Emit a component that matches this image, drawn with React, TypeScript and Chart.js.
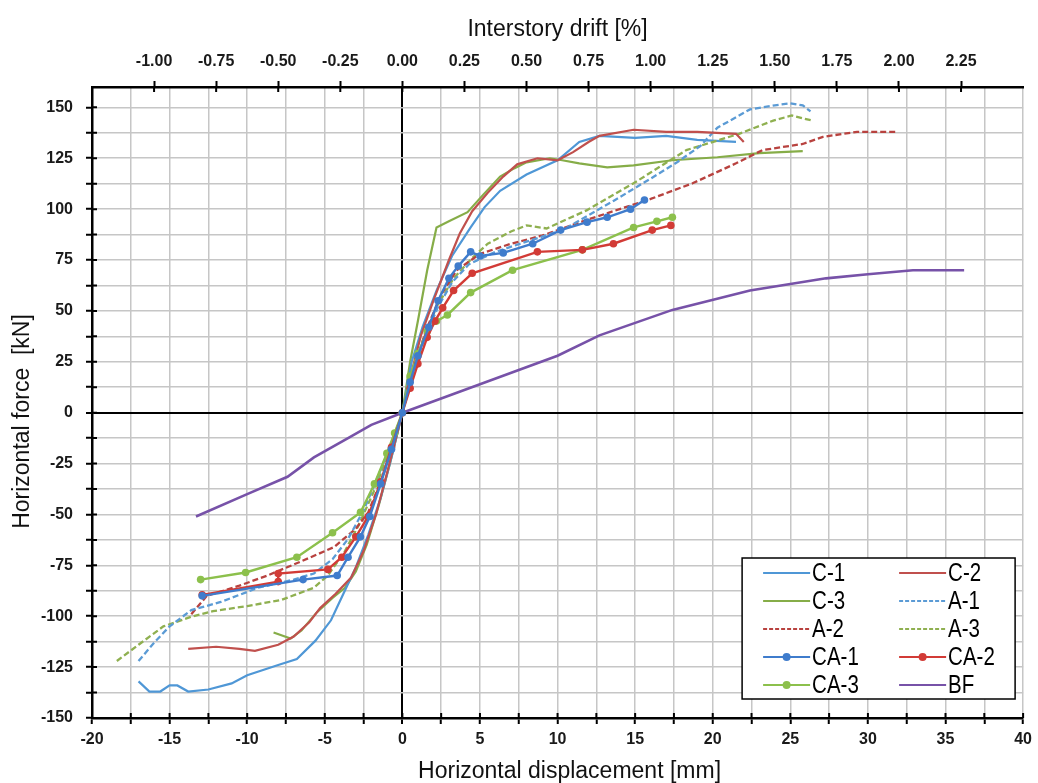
import React, { useEffect, useRef } from 'react';
import { Chart, registerables } from 'chart.js';

Chart.register(...registerables);

// ---- Data: [horizontal displacement (mm), horizontal force (kN)] ----
const C1: number[][] = [[-17,-132],[-16.3,-137],[-15.6,-137],[-15,-134],[-14.5,-134],[-13.8,-137],[-12.5,-136],[-11,-133],[-10,-129],[-8,-124],[-6.8,-121],[-5.6,-112],[-4.6,-102],[-3.8,-89],[-3,-76],[-2.2,-60],[-1.4,-42],[-0.7,-22],[0,0],[0.6,25],[1.3,42],[2.2,60],[3.2,77],[4.4,91],[5.3,101],[6.3,109],[8,117],[10,124],[11.4,133],[12.7,136],[15,135],[17,136],[19,134],[21.5,133]];
const C2: number[][] = [[-13.8,-116],[-12,-115],[-10.5,-116],[-9.5,-117],[-8,-114],[-7,-110],[-6,-103],[-5.3,-96],[-4.3,-89],[-3.3,-81],[-2.5,-68],[-1.7,-50],[-1,-30],[0,0],[0.6,20],[1.2,38],[2,55],[3,75],[3.7,88],[4.5,99],[5.5,108],[6.5,116],[7.4,122],[8.7,125],[10,124],[11,128],[12,133],[12.7,136],[14.9,139],[17,138],[19,138],[21.5,137],[22,133]];
const C3: number[][] = [[-8.3,-108],[-7.2,-111],[-6.5,-107],[-5.5,-98],[-4.5,-91],[-3.7,-86],[-3,-78],[-2.3,-65],[-1.5,-45],[-0.8,-25],[0,0],[0.5,25],[1,45],[1.6,70],[2.2,91],[3,94],[4.2,98.5],[5.2,107],[6.3,116],[7.2,120],[8,123],[9.5,125],[10.3,124],[11.4,122.5],[13.2,120.5],[14.9,121.5],[17.4,124],[20.3,125.5],[23,127.5],[25.8,128.5]];
const A1: number[][] = [[-17,-122],[-16,-113],[-15,-105],[-13.6,-97],[-11.7,-93],[-9.3,-86],[-7,-82],[-5.7,-79],[-4.5,-72],[-3.5,-62],[-2.5,-48],[-1.5,-30],[-0.7,-15],[0,0],[0.7,20],[1.5,38],[2.3,52],[3.2,64],[4.3,73],[6,79],[8,84],[10.4,90],[13.6,104],[16,115],[17.7,123],[19.2,131],[20.3,140],[22.4,149],[24,151],[25,152],[25.8,151],[26.3,148]];
const A2: number[][] = [[-13.6,-99],[-12.6,-90],[-10.5,-85],[-8.7,-80],[-6.5,-73],[-4.4,-66],[-3,-57],[-2.2,-49],[-1.2,-30],[-0.5,-13],[0,0],[0.7,20],[1.5,40],[2.5,58],[3.5,70],[5,78],[7,83],[9,87],[12,95],[14,100],[16,105],[18.7,112.7],[21.5,122.5],[23.2,129],[25.8,132],[27.1,135.5],[29.3,138],[31.8,138]];
const A3: number[][] = [[-18.4,-122],[-17,-114],[-15.4,-105],[-13.5,-100],[-12.2,-97.5],[-10,-95],[-7.8,-92],[-5.7,-86],[-4.8,-80],[-3.7,-68],[-2.8,-55],[-1.8,-38],[-1,-22],[0,0],[0.6,18],[1.3,35],[2.2,52],[3.3,66],[4.5,76],[5.5,83],[7,89],[8,92],[9.3,90.5],[11.9,99.5],[14.9,112.7],[16,118],[18.3,129],[21.7,137],[23.9,143.5],[25.1,146],[26.4,143.5]];
const CA1: number[][] = [[-12.9,-90],[-6.4,-82],[-4.2,-80],[-3.5,-71],[-2.7,-61],[-2.1,-51],[-1.4,-35],[-0.7,-18],[0,0],[0.5,15],[1,28],[1.7,42],[2.3,55],[3,66],[3.6,72],[4.4,79],[5,77],[6.5,78.5],[8.4,83],[10.2,89.7],[11.9,93.6],[13.2,96],[14.7,100],[15.6,104.5]];
const CA2: number[][] = [[-12.9,-89.5],[-8,-83],[-8,-79],[-4.8,-77],[-3.9,-71],[-3,-61],[-2.2,-51],[-1.4,-34],[-0.7,-17],[0,0],[0.5,12],[1,24],[1.6,37],[2.1,45],[2.6,51.5],[3.3,60],[4.5,68.5],[8.7,79],[11.6,80],[13.6,83],[16.1,89.7],[17.3,92]];
const CA3: number[][] = [[-13,-82],[-10.1,-78.5],[-6.8,-71],[-4.5,-59],[-2.7,-49],[-1.8,-35],[-1,-20],[-0.5,-10],[0,0],[0.5,18],[1,29],[1.6,40],[2.2,45],[2.9,48],[4.4,59],[7.1,70],[11.6,80],[14.9,91],[16.4,94],[17.4,96]];
const BF: number[][] = [[-13.3,-51],[-10,-40],[-7.4,-31.5],[-5.7,-22],[-3.5,-12.5],[-2,-6],[0,0],[5,14],[10,28],[12.7,38],[17.4,50.5],[22.4,60],[27.3,66],[30,68],[32.9,70],[36.2,70]];

const SERIES_NAMES = ['C-1', 'C-2', 'C-3', 'A-1', 'A-2', 'A-3', 'CA-1', 'CA-2', 'CA-3', 'BF'];
const SERIES_DATA = [C1, C2, C3, A1, A2, A3, CA1, CA2, CA3, BF];

// ---- Tick labels ----
const X_LABELS = [-20, -15, -10, -5, 0, 5, 10, 15, 20, 25, 30, 35, 40];
const Y_LABELS = [-150, -125, -100, -75, -50, -25, 0, 25, 50, 75, 100, 125, 150];
const DRIFT_LABELS = [-1, -0.75, -0.5, -0.25, 0, 0.25, 0.5, 0.75, 1, 1.25, 1.5, 1.75, 2, 2.25];

const X_TITLE = 'Horizontal displacement [mm]';
const Y_TITLE = 'Horizontal force  [kN]';
const TOP_TITLE = 'Interstory drift [%]';

const STYLES = [
  { color: '#4f97d6', dash: [] as number[], marker: false, width: 2.2 },
  { color: '#c0504d', dash: [], marker: false, width: 2.2 },
  { color: '#86ad48', dash: [], marker: false, width: 2.2 },
  { color: '#5b9bd5', dash: [6, 3], marker: false, width: 2.3 },
  { color: '#b8423f', dash: [6, 3], marker: false, width: 2.3 },
  { color: '#8fb050', dash: [6, 3], marker: false, width: 2.3 },
  { color: '#3f7ccc', dash: [], marker: true, width: 2.4 },
  { color: '#d23b36', dash: [], marker: true, width: 2.4 },
  { color: '#8cc04c', dash: [], marker: true, width: 2.4 },
  { color: '#7752a8', dash: [], marker: false, width: 2.6 },
];
const ORDERS = [5, 4, 5, 4, 4, 4, 2, 2, 2, 3];

// major values plus minor ticks halfway between them
function withMinor(labels: number[]) {
  const out: { value: number }[] = [];
  for (let i = 0; i < labels.length; i++) {
    out.push({ value: labels[i] });
    if (i < labels.length - 1) out.push({ value: (labels[i] + labels[i + 1]) / 2 });
  }
  return out;
}

const FONT = '"Liberation Sans", Arial, sans-serif';
const GRID = '#c6c6c6';

// tick marks crossing into the plot (Excel style)
const innerTicksPlugin = {
  id: 'innerTicks',
  afterDatasetsDraw(chart: any) {
    const { ctx, chartArea, scales } = chart;
    ctx.save();
    ctx.strokeStyle = '#000';
    ctx.lineWidth = 2;
    ctx.beginPath();
    scales.x.ticks.forEach((t: any) => {
      const px = scales.x.getPixelForValue(t.value);
      ctx.moveTo(px, chartArea.bottom);
      ctx.lineTo(px, chartArea.bottom - 5);
    });
    scales.x2.ticks.forEach((t: any) => {
      const px = scales.x2.getPixelForValue(t.value);
      ctx.moveTo(px, chartArea.top);
      ctx.lineTo(px, chartArea.top + 5);
    });
    scales.y.ticks.forEach((t: any) => {
      const py = scales.y.getPixelForValue(t.value);
      ctx.moveTo(chartArea.left, py);
      ctx.lineTo(chartArea.left + 5, py);
    });
    ctx.stroke();
    ctx.restore();
  },
};

// axis titles for bottom and left, placed like the reference
const titlesPlugin = {
  id: 'axisTitles',
  afterDraw(chart: any) {
    const { ctx, chartArea } = chart;
    ctx.save();
    ctx.fillStyle = '#111';
    ctx.font = '23px ' + FONT;
    ctx.textAlign = 'center';
    ctx.textBaseline = 'middle';
    ctx.fillText(X_TITLE, (chartArea.left + chartArea.right) / 2 + 12, chartArea.bottom + 54);
    ctx.translate(23, (chartArea.top + chartArea.bottom) / 2 + 19);
    ctx.rotate(-Math.PI / 2);
    ctx.fillText(Y_TITLE, 0, 0);
    ctx.restore();
  },
};

const legendPlugin = {
  id: 'boxLegend',
  afterDraw(chart: any) {
    const { ctx, chartArea } = chart;
    const bx = chartArea.right - 281;
    const by = chartArea.bottom - 160;
    const bw = 273;
    const bh = 141;
    ctx.save();
    ctx.fillStyle = '#ffffff';
    ctx.fillRect(bx, by, bw, bh);
    ctx.strokeStyle = '#000';
    ctx.lineWidth = 1.5;
    ctx.strokeRect(bx, by, bw, bh);
    chart.data.datasets.forEach((ds: any, i: number) => {
      const col = i % 2;
      const row = Math.floor(i / 2);
      const y = by + 15 + row * 28;
      const x0 = bx + (col ? 157 : 21);
      const x1 = x0 + 47;
      ctx.strokeStyle = ds.borderColor;
      ctx.lineWidth = 2;
      ctx.setLineDash(ds.borderDash && ds.borderDash.length ? [4, 2] : []);
      ctx.beginPath();
      ctx.moveTo(x0, y);
      ctx.lineTo(x1, y);
      ctx.stroke();
      ctx.setLineDash([]);
      if (ds.pointRadius > 0) {
        ctx.fillStyle = ds.borderColor;
        ctx.beginPath();
        ctx.arc((x0 + x1) / 2, y, 4, 0, Math.PI * 2);
        ctx.fill();
      }
      ctx.save();
      ctx.fillStyle = '#000';
      ctx.font = '25px ' + FONT;
      ctx.textBaseline = 'middle';
      ctx.textAlign = 'left';
      ctx.translate(x1 + 2, y + 1);
      ctx.scale(0.82, 1);
      ctx.fillText(ds.label, 0, 0);
      ctx.restore();
    });
    ctx.restore();
  },
};

export default function App() {
  const ref = useRef<HTMLCanvasElement | null>(null);
  useEffect(() => {
    if (!ref.current) return;
    const datasets = SERIES_NAMES.map((name, i) => ({
      label: name,
      data: SERIES_DATA[i].map(([x, y]) => ({ x, y })),
      showLine: true,
      borderColor: STYLES[i].color,
      backgroundColor: STYLES[i].color,
      borderWidth: STYLES[i].width,
      borderDash: STYLES[i].dash,
      pointRadius: STYLES[i].marker ? 3.8 : 0,
      pointBorderWidth: 0,
      pointBackgroundColor: STYLES[i].color,
      tension: 0,
      order: ORDERS[i],
      xAxisID: 'x',
      yAxisID: 'y',
    }));
    const tickFont = { family: FONT, size: 16, weight: 'bold' as const };
    const chart = new Chart(ref.current, {
      type: 'scatter',
      data: { datasets },
      plugins: [innerTicksPlugin, titlesPlugin, legendPlugin],
      options: {
        animation: false,
        responsive: false,
        maintainAspectRatio: false,
        layout: { padding: { left: 0, right: 14, top: 0, bottom: 0 } },
        plugins: { legend: { display: false }, tooltip: { enabled: false } },
        scales: {
          x: {
            type: 'linear',
            position: 'bottom',
            min: -20,
            max: 40,
            afterBuildTicks: (s: any) => { s.ticks = withMinor(X_LABELS); },
            afterFit: (s: any) => { s.height = 65; },
            grid: {
              color: (c: any) => (c.tick && c.tick.value === 0 ? '#000' : GRID),
              lineWidth: (c: any) => (c.tick && c.tick.value === 0 ? 2 : 1.5),
              tickColor: '#000',
              tickWidth: 2,
              tickLength: 6,
            },
            border: { color: '#000', width: 2.5 },
            ticks: {
              autoSkip: false,
              maxRotation: 0,
              padding: 6,
              color: '#1a1a1a',
              font: tickFont,
              callback: (v: any) => (X_LABELS.includes(Number(v)) ? String(v) : ''),
            },
            title: { display: false },
          },
          x2: {
            type: 'linear',
            position: 'top',
            min: -1.25,
            max: 2.5,
            afterBuildTicks: (s: any) => { s.ticks = DRIFT_LABELS.map((v) => ({ value: v })); },
            afterFit: (s: any) => { s.height = 87; },
            grid: { drawOnChartArea: false, tickColor: '#000', tickWidth: 2, tickLength: 6 },
            border: { color: '#000', width: 2.5 },
            ticks: {
              autoSkip: false,
              maxRotation: 0,
              padding: 10,
              color: '#1a1a1a',
              font: tickFont,
              callback: (v: any) => Number(v).toFixed(2),
            },
            title: {
              display: true,
              text: TOP_TITLE,
              color: '#111',
              font: { family: FONT, size: 23, lineHeight: 1 },
              padding: { top: 18, bottom: 0 },
            },
          },
          y: {
            type: 'linear',
            position: 'left',
            min: -150,
            max: 160,
            afterBuildTicks: (s: any) => { s.ticks = withMinor(Y_LABELS); },
            afterFit: (s: any) => { s.width = 92; },
            grid: {
              color: (c: any) => (c.tick && c.tick.value === 0 ? '#000' : GRID),
              lineWidth: (c: any) => (c.tick && c.tick.value === 0 ? 2 : 1.5),
              tickColor: '#000',
              tickWidth: 2,
              tickLength: 6,
            },
            border: { color: '#000', width: 2.5 },
            ticks: {
              autoSkip: false,
              padding: 13,
              color: '#1a1a1a',
              font: tickFont,
              callback: (v: any) => (Y_LABELS.includes(Number(v)) ? String(v) : ''),
            },
            title: { display: false },
          },
        },
      },
    } as any);
    return () => chart.destroy();
  }, []);
  return (
    <div style={{ position: 'absolute', left: 0, top: 0, width: 1038, height: 783, background: '#fff' }}>
      <canvas ref={ref} width={1038} height={783} style={{ display: 'block' }} />
    </div>
  );
}
